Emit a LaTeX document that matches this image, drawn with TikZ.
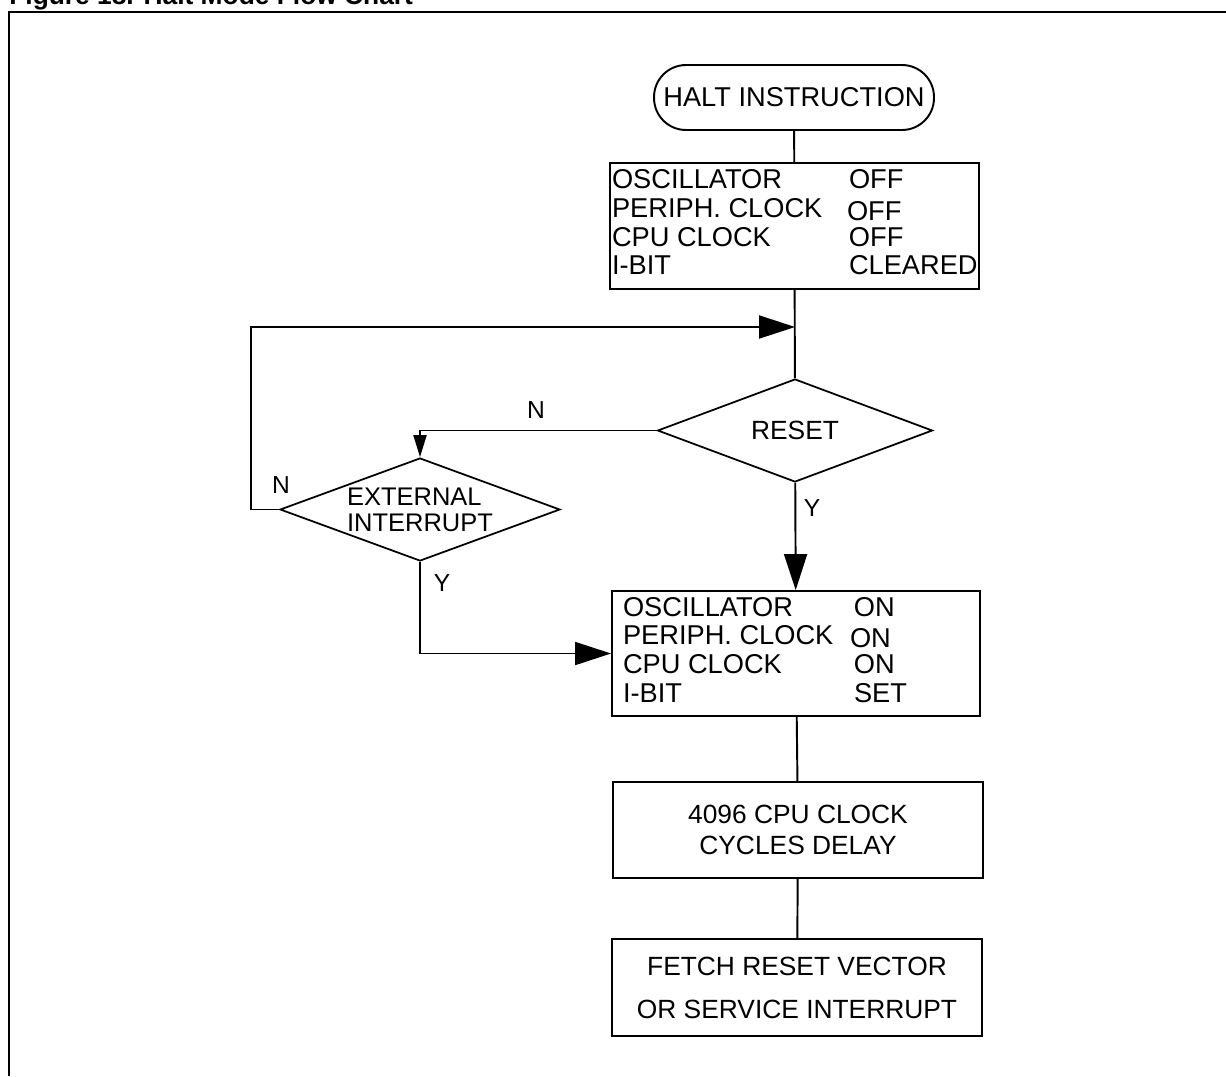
\documentclass[tikz,border=0pt]{standalone}
\usepackage{fontspec}
\setmainfont{Liberation Sans}
\usetikzlibrary{shapes.geometric,arrows.meta}

\begin{document}
\begin{tikzpicture}[x=0.02cm, y=-0.02cm, every node/.style={inner sep=0pt},
			flowline/.style={line width=1.1pt},
			bigarrow/.style={flowline, -{Triangle[length=0.72cm, width=0.46cm]}},
			smallarrow/.style={flowline, -{Triangle[length=0.44cm, width=0.26cm]}},
			statebox/.style={draw, line width=1.1pt, font=\fontsize{15.5pt}{16.4pt}\selectfont},
			textbox/.style={draw, line width=1.1pt, minimum width=7.4cm, align=center},
			decision/.style={draw, diamond, aspect=2.7, line width=1pt, font=\fontsize{15pt}{15pt}\selectfont},
			answer/.style={font=\fontsize{14pt}{14pt}\selectfont}]
			\useasboundingbox (0,0) rectangle (1226,1076);
			\clip (0,0) rectangle (1226,1076);
			\node[anchor=base west, font=\bfseries\fontsize{15pt}{15pt}\selectfont] (title) at (9,4) {Figure 18. Halt Mode Flow Chart};
			\draw[line width=1.5pt] (1226,12) -- (9,12) -- (9,1076);
			
			\node[draw, line width=1.1pt, rounded corners=0.64cm, minimum width=5.6cm, minimum height=1.3cm,
				font=\fontsize{15.5pt}{15.5pt}\selectfont] (halt) at (794,97.5) {HALT INSTRUCTION};
			\node[statebox, minimum height=2.52cm] (off) at (794.5,226) {\begin{tabular}{@{\hspace{0.04cm}}p{4.74cm}@{}p{2.6cm}@{}}
					OSCILLATOR & OFF\\
					PERIPH. CLOCK & \hspace{-0.04cm}\raisebox{-0.06cm}{OFF}\\
					CPU CLOCK & OFF\\
					I-BIT & CLEARED
				\end{tabular}};
			\node[decision, minimum width=5.5cm, minimum height=2.06cm] (reset) at (795,430.5) {RESET};
			\node[decision, minimum width=5.6cm, minimum height=2.06cm,
				label={[name=extlabel, align=left, font=\fontsize{14.5pt}{14.7pt}\selectfont]center:{EXTERNAL\\INTERRUPT}}] (extint) at (420,509.5) {};
			\node[statebox, minimum height=2.5cm] (on) at (796,653.5) {\begin{tabular}{@{\hspace{0.22cm}}p{4.62cm}@{}p{2.52cm}@{}}
					OSCILLATOR & ON\\
					PERIPH. CLOCK & \hspace{-0.08cm}\raisebox{-0.05cm}{ON}\\
					CPU CLOCK & ON\\
					I-BIT & SET
				\end{tabular}};
			\node[textbox, minimum height=1.92cm, font=\fontsize{15pt}{17.6pt}\selectfont] (delay) at (798,830) {4096 CPU CLOCK\\CYCLES DELAY};
			\node[textbox, minimum height=1.94cm, font=\fontsize{15pt}{24.4pt}\selectfont] (fetch) at (797,987.5) {FETCH RESET VECTOR\\OR SERVICE INTERRUPT};
			
			\node[answer] (resetno) at (536,410) {N};
			\node[answer] (resetyes) at (812,508) {Y};
			\node[answer] (extno) at (281,485) {N};
			\node[answer] (extyes) at (442,583) {Y};
			
			\coordinate (merge) at (795,327);
			\draw[flowline] (halt) -- (off);
			\draw[flowline] (off) -- (reset);
			\draw[bigarrow] (extint.west) -- ++(-28,0) |- (merge);
			\draw[smallarrow] (reset.west) -| (extint.north);
			\draw[bigarrow] (reset) -- (on);
			\draw[bigarrow] (extint.south) |- (on.west);
			\draw[flowline] (on) -- (delay);
			\draw[flowline] (delay) -- (fetch);
		\end{tikzpicture}
\end{document}
